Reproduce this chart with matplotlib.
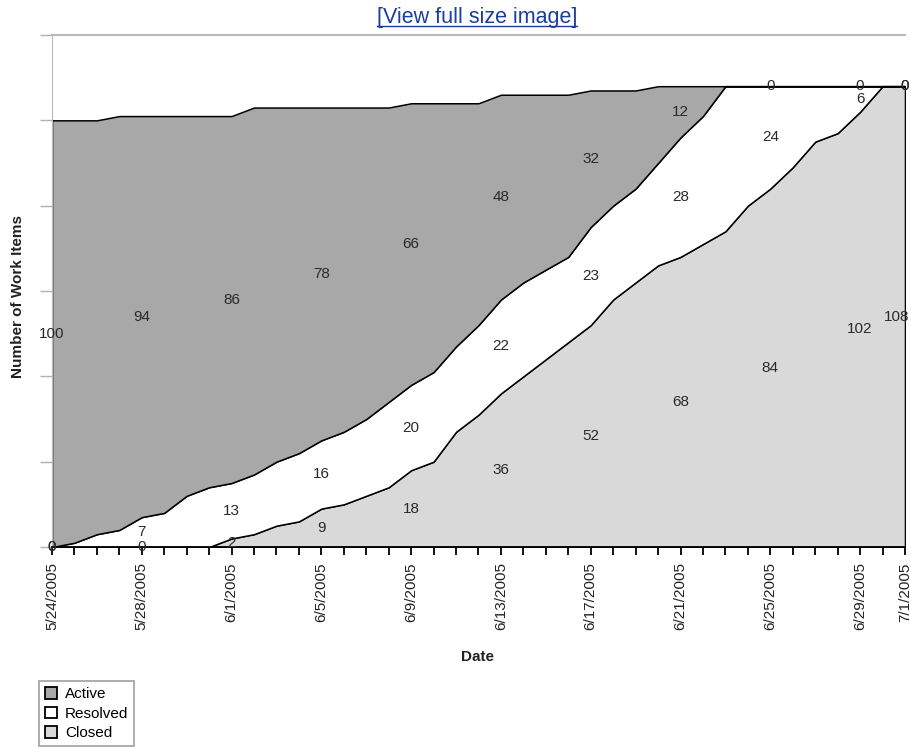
import matplotlib
matplotlib.use("Agg")
import matplotlib.pyplot as plt
from matplotlib.patches import Patch
from matplotlib.lines import Line2D
import pandas as pd

# --- data (work items per state, one value per day) ---
DATES = pd.date_range("2005-05-24", "2005-07-01", freq="D")
ACTIVE = [100, 99, 97, 97, 94, 93, 89, 87, 86, 86, 83, 81, 78, 76, 73, 69, 66, 63, 57, 52,
          48, 44, 41, 38, 32, 27, 23, 18, 12, 7, 0, 0, 0, 0, 0, 0, 0, 0, 0]
RESOLVED = [0, 1, 3, 4, 7, 8, 12, 14, 13, 14, 15, 16, 16, 17, 18, 20, 20, 21, 20, 21,
            22, 22, 21, 20, 23, 22, 22, 24, 28, 30, 34, 28, 24, 19, 13, 11, 6, 0, 0]
CLOSED = [0, 0, 0, 0, 0, 0, 0, 0, 2, 3, 5, 6, 9, 10, 12, 14, 18, 20, 27, 31,
          36, 40, 44, 48, 52, 58, 62, 66, 68, 71, 74, 80, 84, 89, 95, 97, 102, 108, 108]
SERIES = ["Active", "Resolved", "Closed"]
COLORS = {"Active": "#a8a8a8", "Resolved": "#ffffff", "Closed": "#d9d9d9"}

W, H = 912, 749
plt.rcParams["font.family"] = ["Liberation Sans", "DejaVu Sans"]

fig = plt.figure(figsize=(W / 100, H / 100), dpi=100)
ax = fig.add_axes([52 / W, 1 - 547 / H, (905 - 52) / W, (547 - 35) / H])

x = list(range(len(DATES)))
ax.stackplot(x, CLOSED, RESOLVED, ACTIVE,
             colors=[COLORS["Closed"], COLORS["Resolved"], COLORS["Active"]],
             edgecolor="black", linewidth=1.1)

# value labels every 4 days plus the last day, centred in each band
last = len(DATES) - 1
label_idx = list(range(0, len(DATES), 4))
if label_idx[-1] != last:
    label_idx.append(last)
for i in label_idx:
    base = 0
    for vals in (CLOSED, RESOLVED, ACTIVE):
        v = vals[i]
        # wide label in the last column is pulled inward so it stays on the picture
        dx = -6 if (i == last and v >= 100) else 0
        ax.annotate(str(v), (i, base + v / 2), xytext=(dx, 0),
                    textcoords="offset points", ha="center", va="center",
                    fontsize=11, color="#2a2a2a", annotation_clip=False)
        base += v

ax.set_xlim(0, last)
ax.set_ylim(0, 120)

ax.set_xticks(x)
ax.set_xticklabels([f"{d.month}/{d.day}/{d.year}" if i in label_idx else ""
                    for i, d in enumerate(DATES)],
                   rotation=90, fontsize=11, color="#222222")
ax.tick_params(axis="x", direction="out", length=6, width=1.3, color="black", pad=5)

ax.set_yticks(range(0, 121, 20))
ax.set_yticklabels([])
ax.tick_params(axis="y", direction="out", length=9, width=1, color="#b0b0b0")

ax.spines["right"].set_visible(False)
ax.spines["top"].set_color("#b8b8b8")
ax.spines["top"].set_linewidth(1.5)
ax.spines["left"].set_color("#b8b8b8")
ax.spines["bottom"].set_color("black")
ax.spines["bottom"].set_linewidth(1.3)

fig.text(18 / W, 1 - 297 / H, "Number of Work Items", rotation=90,
         ha="center", va="center", fontsize=11, fontweight="bold", color="#222222")
fig.text(478 / W, 1 - 657 / H, "Date", ha="center", va="center",
         fontsize=11, fontweight="bold", color="#222222")

handles = [Patch(facecolor=COLORS[s], edgecolor="black", linewidth=1.3, label=s)
           for s in SERIES]
leg = fig.legend(handles=handles, loc="upper left",
                 bbox_to_anchor=(39 / W, 1 - 681 / H), frameon=True, fancybox=False,
                 edgecolor="#888888", fontsize=11, handlelength=0.8, handleheight=0.8,
                 labelspacing=0.35, borderpad=0.4, handletextpad=0.5, borderaxespad=0)
leg.get_frame().set_linewidth(1.2)

# link caption above the chart
link = fig.text(477 / W, 1 - 17 / H, "[View full size image]", ha="center",
                va="center", fontsize=15.5, color="#1b3f9e")
renderer = fig.canvas.get_renderer()
bb = link.get_window_extent(renderer)
uy = (bb.y0 + 2) / H
fig.add_artist(Line2D([bb.x0 / W, bb.x1 / W], [uy, uy], color="#1b3f9e",
                      linewidth=1, transform=fig.transFigure))

fig.savefig("out.png", dpi=100)
